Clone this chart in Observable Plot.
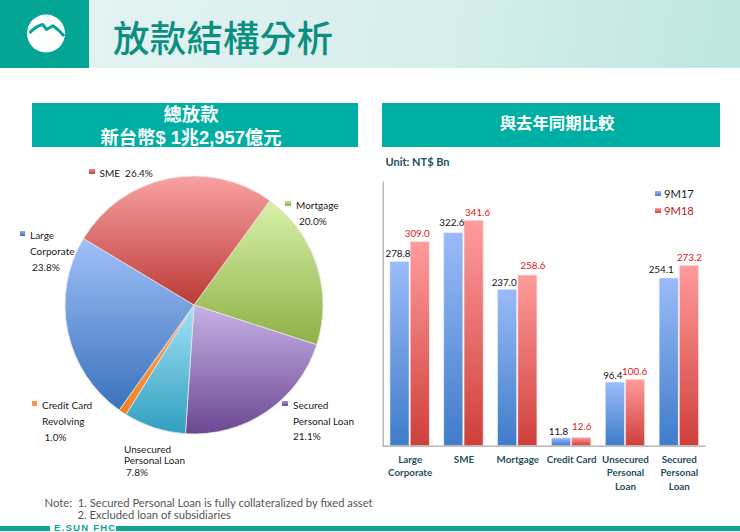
<!DOCTYPE html>
<html lang="zh-Hant">
<head>
<meta charset="UTF-8">
<title>放款結構分析</title>
<script src="https://cdn.jsdelivr.net/npm/d3@7"></script>
<script src="https://cdn.jsdelivr.net/npm/@observablehq/plot@0.6"></script>
<style>
  html, body { margin: 0; padding: 0; background: #fff; }
  #page { position: relative; width: 740px; height: 532px; overflow: hidden; font-family: Lato, sans-serif; color: #222; }
  #page > * { position: absolute; }
  .head-band { left: 89px; top: 0; width: 651px; height: 68px; background: linear-gradient(100deg, #e3f3f2 0%, #d6eeec 55%, #bde6e1 100%); }
  .head-logo { left: 0; top: 0; width: 89px; height: 68px; background: #05a596; }
  .title { left: 113px; top: 13px; font: 500 36.5px/48px "Noto Sans CJK TC", sans-serif; letter-spacing: 0.2px; color: #0c8f80; white-space: nowrap; }
  .panel { top: 102.5px; height: 44.5px; background: #00afa3; color: #fff; text-align: center; font-family: "Liberation Sans", "Noto Sans CJK TC", sans-serif; font-weight: 700; overflow: hidden; }
  .unit { left: 385.5px; top: 155px; font-size: 11px; line-height: 14px; font-weight: 700; color: #1f4f5c; }
  .t { font-size: 10px; line-height: 14px; white-space: nowrap; color: #1a1a1a; }
  .sw { width: 5.5px; height: 5.5px; }
  .note { left: 44.5px; font-size: 11.25px; line-height: 13px; color: #555; white-space: pre; }
  .rule { top: 525.7px; height: 5px; background: #0ca596; }
  .brand { left: 54px; top: 521px; font: 700 9.6px/13px "Liberation Sans", sans-serif; letter-spacing: 1.2px; color: #0ca596; }
  .leg { font-size: 11.2px; line-height: 16px; white-space: nowrap; }
  svg { overflow: visible; }
</style>
</head>
<body>
<div id="page">
  <div class="head-band"></div>
  <div class="head-logo"></div>
  <svg style="left:27px;top:15px" width="38" height="38" viewBox="0 0 38 38">
    <circle cx="19" cy="18.5" r="19" fill="#fff"/>
    <path d="M2.5 18 Q9 11 15.7 9.5 L19.5 14.5 L26 10.8 Q32 15 37 21" fill="none" stroke="#05a596" stroke-width="3" stroke-linejoin="round"/>
  </svg>
  <div class="title">放款結構分析</div>

  <div class="panel" style="left:32px;width:326px;font-size:18.3px;line-height:23px"><div style="position:relative;left:-4px">總放款<br>新台幣$ 1兆2,957億元</div></div>
  <div class="panel" style="left:382px;width:338px;font-size:16.4px;line-height:40px"><div style="position:relative;left:6px">與去年同期比較</div></div>
  <div class="unit">Unit: NT$ Bn</div>

  <div id="pie" style="left:59.5px;top:171px"></div>
  <div id="bars" style="left:370px;top:170px"></div>

  <div class="sw" style="left:89px;top:168.5px;background:linear-gradient(#f08a8a,#c0403c)"></div>
  <div class="t" style="left:99.5px;top:165.5px">SME&nbsp; 26.4%</div>
  <div class="sw" style="left:285px;top:200.5px;background:linear-gradient(#c4e08a,#8eb044)"></div>
  <div class="t" style="left:296px;top:198px">Mortgage</div>
  <div class="t" style="left:299px;top:214px">20.0%</div>
  <div class="sw" style="left:19.5px;top:230.5px;background:linear-gradient(#8fb0ea,#3a72bc)"></div>
  <div class="t" style="left:30px;top:228px">Large</div>
  <div class="t" style="left:30px;top:244px">Corporate</div>
  <div class="t" style="left:32px;top:260px">23.8%</div>
  <div class="sw" style="left:31.5px;top:400.5px;background:#f79646"></div>
  <div class="t" style="left:42px;top:398px">Credit Card</div>
  <div class="t" style="left:42px;top:414px">Revolving</div>
  <div class="t" style="left:44.5px;top:430px">1.0%</div>
  <div class="sw" style="left:282px;top:400.5px;background:linear-gradient(#a994cf,#6f4a95)"></div>
  <div class="t" style="left:293px;top:398px">Secured</div>
  <div class="t" style="left:293px;top:413.5px">Personal Loan</div>
  <div class="t" style="left:293px;top:429px">21.1%</div>
  <div class="t" style="left:124px;top:442px">Unsecured</div>
  <div class="t" style="left:124px;top:453px">Personal Loan</div>
  <div class="t" style="left:126px;top:464.5px">7.8%</div>

  <div class="sw" style="left:655px;top:190.5px;background:linear-gradient(#9abbf9,#3f7cc9)"></div>
  <div class="leg" style="left:664px;top:185.5px">9M17</div>
  <div class="sw" style="left:655px;top:207.5px;background:linear-gradient(#ff9c9c,#cf3f3b)"></div>
  <div class="leg" style="left:664px;top:202.5px;color:#c0161a">9M18</div>

  <div class="note" style="top:495.5px">Note:  1. Secured Personal Loan is fully collateralized by fixed asset</div>
  <div class="note" style="top:508px;left:77.5px">2. Excluded loan of subsidiaries</div>
  <div class="rule" style="left:0;width:49.5px"></div>
  <div class="brand">E.SUN FHC</div>
  <div class="rule" style="left:116px;width:624px"></div>
</div>

<script>
// bar chart data
const categories = ["Large Corporate", "SME", "Mortgage", "Credit Card", "Unsecured Personal Loan", "Secured Personal Loan"];
const categoryLines = ["Large\nCorporate", "SME", "Mortgage", "Credit Card", "Unsecured\nPersonal\nLoan", "Secured\nPersonal\nLoan"];
const values9M17 = [278.8, 322.6, 237.0, 11.8, 96.4, 254.1];
const values9M18 = [309.0, 341.6, 258.6, 12.6, 100.6, 273.2];

// pie data, clockwise from the top right
const sliceNames = ["Mortgage", "Secured Personal Loan", "Unsecured Personal Loan", "Credit Card Revolving", "Large Corporate", "SME"];
const sliceShares = [20.0, 21.1, 7.8, 1.0, 23.8, 26.4];
const sliceColors = [
  ["#d8f1aa", "#8eb044"],
  ["#c6b2e6", "#6c4893"],
  ["#a4e2f6", "#2f9fc0"],
  ["#fbaa68", "#f08020"],
  ["#a0c0f8", "#3a72bc"],
  ["#f8a2a2", "#bc3a36"]
];

// hand nudges so the value labels sit like the original
const dx9M17 = [-2, -2, -3.5, -3, -2.5, -8];
const dx9M18 = [-3, 3.5, 5, 0, -1, 0];
const dy9M17 = [-5.5, -7, -4, -3.3, -4, -5];
const dy9M18 = [-5.3, -5, -7, -8.3, -5, -5];

function gradient(defs, id, top, bottom) {
  const g = defs.append("linearGradient").attr("id", id)
    .attr("x1", 0).attr("y1", 0).attr("x2", 0).attr("y2", 1);
  g.append("stop").attr("offset", "0%").attr("stop-color", top);
  g.append("stop").attr("offset", "100%").attr("stop-color", bottom);
}

function pieMark(index, scales, values, dimensions) {
  const r = dimensions.width / 2 - 5;
  const root = d3.create("svg:g")
    .attr("transform", `translate(${dimensions.width / 2},${dimensions.height / 2})`);
  const defs = root.append("defs");
  sliceColors.forEach((c, i) => gradient(defs, "slice" + i, c[0], c[1]));
  const start = 36 * Math.PI / 180;
  const arcs = d3.pie().sort(null).startAngle(start).endAngle(start + 2 * Math.PI)(sliceShares);
  const arc = d3.arc().innerRadius(0).outerRadius(r);
  root.selectAll("path").data(arcs).join("path")
    .attr("d", arc)
    .attr("fill", (d, i) => `url(#slice${i})`)
    .attr("stroke", "#e6e6e6")
    .attr("stroke-width", 0.8)
    .append("title").text((d, i) => `${sliceNames[i]} ${sliceShares[i]}%`);
  return root.node();
}

document.getElementById("pie").append(Plot.plot({
  width: 268,
  height: 268,
  margin: 0,
  style: { background: "transparent" },
  marks: [pieMark]
}));

const rows = [
  ...categories.map((c, i) => ({ category: c, series: "9M17", value: values9M17[i], dx: dx9M17[i], dy: dy9M17[i] })),
  ...categories.map((c, i) => ({ category: c, series: "9M18", value: values9M18[i], dx: dx9M18[i], dy: dy9M18[i] }))
];

function barDefs() {
  const root = d3.create("svg:defs");
  gradient(root, "bar17", "#9abbf9", "#3f7cc9");
  gradient(root, "bar18", "#ff9c9c", "#cf3f3b");
  return root.node();
}

document.getElementById("bars").append(Plot.plot({
  width: 370,
  height: 330,
  marginLeft: 12.7,
  marginRight: 34.3,
  marginTop: 11.7,
  marginBottom: 54.3,
  style: { background: "transparent", fontFamily: "Lato, sans-serif" },
  fx: { domain: categories, padding: 0, round: false, label: null },
  x: { domain: ["9M17", "9M18"], paddingInner: 0.06, paddingOuter: 0.36, round: false, axis: null },
  y: { domain: [0, 400], axis: null },
  marks: [
    barDefs,
    Plot.barY(rows, {
      fx: "category",
      x: "series",
      y: "value",
      fill: d => d.series === "9M17" ? "url(#bar17)" : "url(#bar18)",
      stroke: d => d.series === "9M17" ? "#dce7fb" : "#fbdcdc",
      strokeWidth: 0.6
    }),
    Plot.ruleY([0], { stroke: "#a8a8a8", strokeWidth: 1.2 }),
    Plot.frame({ anchor: "left", facet: "super", stroke: "#a8a8a8", strokeWidth: 1.2 }),
    ...rows.map(r => Plot.text([r], {
      fx: "category",
      x: "series",
      y: "value",
      text: d => d.value.toFixed(1),
      textAnchor: "middle",
      lineAnchor: "bottom",
      dx: r.dx,
      dy: r.dy,
      fontSize: 9.8,
      fill: r.series === "9M17" ? "#111" : "#e0141c"
    })),
    Plot.axisFx({
      anchor: "bottom",
      label: null,
      tickSize: 0,
      tickPadding: 8,
      lineHeight: 1.33,
      fontSize: 9.8,
      fontWeight: 700,
      fill: "#1f4f5c",
      tickFormat: c => categoryLines[categories.indexOf(c)]
    })
  ]
}));
</script>
</body>
</html>
